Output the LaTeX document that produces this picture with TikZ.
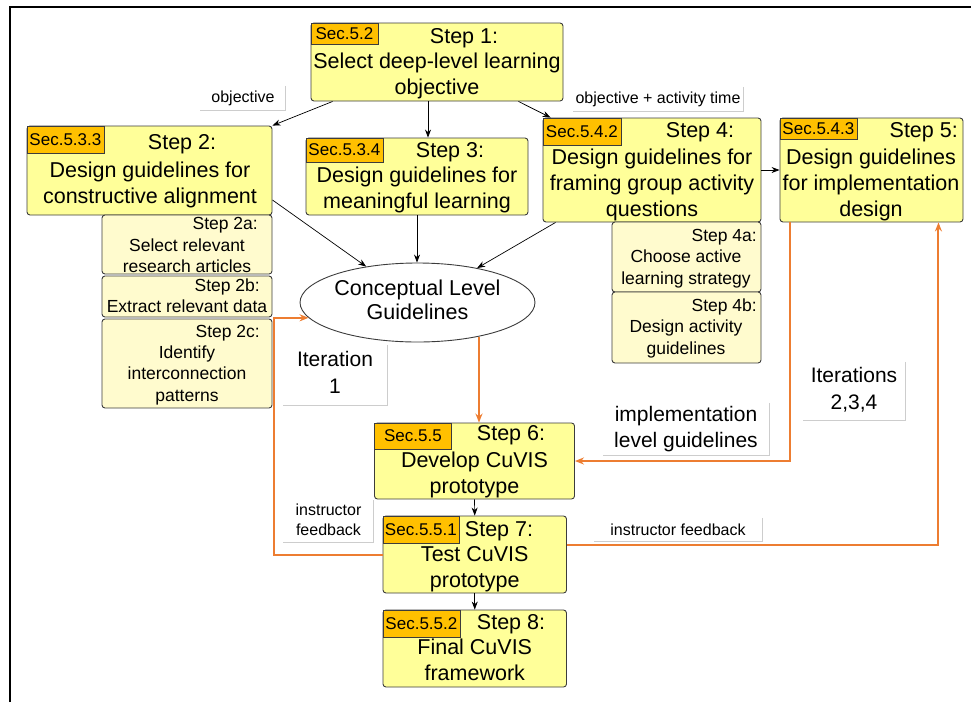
\documentclass[tikz,border=0pt]{standalone}
\usepackage{fontspec}
\setmainfont{Liberation Sans}
\usetikzlibrary{arrows.meta,shapes.geometric,calc}

\definecolor{stepfill}{RGB}{255,255,153}
\definecolor{subfill}{RGB}{255,251,206}
\definecolor{tagfill}{RGB}{255,192,0}
\definecolor{boxline}{RGB}{60,60,60}
\definecolor{loopline}{RGB}{237,125,49}
\definecolor{lblline}{RGB}{205,205,205}

\newcommand\bigfont{\fontsize{21.5}{26}\selectfont}
\newcommand\subfont{\fontsize{17.5}{21.5}\selectfont}
\newcommand\tagfont{\fontsize{17}{20}\selectfont}
\newcommand\lblfont{\fontsize{16}{20}\selectfont}

\tikzset{
  stepbox/.style={draw=boxline, fill=stepfill, rounded corners=3pt, line width=0.9pt, inner sep=0pt},
  subbox/.style={draw=boxline, fill=subfill, rounded corners=3pt, line width=0.9pt, inner sep=0pt},
  sectag/.style={draw=boxline, fill=tagfill, line width=0.7pt, inner sep=0pt, font=\tagfont, anchor=north west},
  bigtxt/.style={font=\bigfont, align=center, inner sep=0pt},
  subtxt/.style={font=\subfont, align=center, inner sep=0pt},
  lbl/.style={inner sep=0pt, align=center},
  lbledge/.style={draw=lblline, line width=1.2pt},
  arr/.style={draw=black, line width=0.7pt, -{Stealth[length=8pt,width=6pt]}},
  oarr/.style={draw=loopline, line width=2pt, -{Stealth[length=9pt,width=7pt]}},
}

\begin{document}
\begin{tikzpicture}[x=1pt,y=-1pt]
\useasboundingbox (0,0) rectangle (971,702);

% frame
\draw[line width=2.2pt] (10,702) -- (10,7) -- (971,7);

% ---- Step 1
\node[stepbox, minimum width=252pt, minimum height=78pt] (s1) at (437,62) {};
\node[sectag, minimum width=67pt, minimum height=21pt] (t1) at (s1.north west) {Sec.5.2};
\node[bigtxt] (h1) at (464,38) {\strut Step 1:};
\node[bigtxt] (b1) at (437,76.5) {\strut Select deep-level learning\\\strut objective};

% ---- Step 2
\node[stepbox, minimum width=245pt, minimum height=89pt] (s2) at (149.5,170.5) {};
\node[sectag, minimum width=77pt, minimum height=27pt] (t2) at (s2.north west) {Sec.5.3.3};
\node[bigtxt] (h2) at (182,144) {\strut Step 2:};
\node[bigtxt] (b2) at (150,185.5) {\strut Design guidelines for\\\strut constructive alignment};

% ---- Step 2a-2c
\node[subbox, minimum width=170pt, minimum height=59pt] (s2a) at (187,244.5) {};
\node[subtxt, anchor=east] (h2a) at (258,225) {\strut Step 2a:};
\node[subtxt] (b2a) at (187,257.5) {\strut Select relevant\\\strut research articles};

\node[subbox, minimum width=170pt, minimum height=41pt] (s2b) at (187,296.5) {};
\node[subtxt, anchor=east] (h2b) at (260,287) {\strut Step 2b:};
\node[subtxt] (b2b) at (187,308) {\strut Extract relevant data};

\node[subbox, minimum width=170pt, minimum height=89pt] (s2c) at (187,363.5) {};
\node[subtxt, anchor=east] (h2c) at (260,333) {\strut Step 2c:};
\node[subtxt] (b2c) at (187,375.5) {\strut Identify\\\strut interconnection\\\strut patterns};

% ---- Step 3
\node[stepbox, minimum width=222pt, minimum height=77pt] (s3) at (417,176.5) {};
\node[sectag, minimum width=77pt, minimum height=24pt] (t3) at (s3.north west) {Sec.5.3.4};
\node[bigtxt] (h3) at (450,152) {\strut Step 3:};
\node[bigtxt] (b3) at (417,190.5) {\strut Design guidelines for\\\strut meaningful learning};

% ---- Step 4
\node[stepbox, minimum width=218pt, minimum height=104pt] (s4) at (652,170) {};
\node[sectag, minimum width=78pt, minimum height=27pt] (t4) at (s4.north west) {Sec.5.4.2};
\node[bigtxt] (h4) at (700,132) {\strut Step 4:};
\node[bigtxt] (b4) at (652,185) {\strut Design guidelines for\\\strut framing group activity\\\strut questions};

% ---- Step 4a, 4b
\node[subbox, minimum width=149pt, minimum height=70pt] (s4a) at (686.5,257) {};
\node[subtxt, anchor=east] (h4a) at (757,237) {\strut Step 4a:};
\node[subtxt] (b4a) at (686,269) {\strut Choose active\\\strut learning strategy};

\node[subbox, minimum width=149pt, minimum height=71pt] (s4b) at (686.5,327.5) {};
\node[subtxt, anchor=east] (h4b) at (757,307) {\strut Step 4b:};
\node[subtxt] (b4b) at (686,339) {\strut Design activity\\\strut guidelines};

% ---- Step 5
\node[stepbox, minimum width=183pt, minimum height=104pt] (s5) at (871.5,170) {};
\node[sectag, minimum width=77pt, minimum height=21pt] (t5) at (s5.north west) {Sec.5.4.3};
\node[bigtxt, anchor=east] (h5) at (958,132) {\strut Step 5:};
\node[bigtxt] (b5) at (871,185) {\strut Design guidelines\\\strut for implementation\\\strut design};

% ---- conceptual guidelines
\node[ellipse, draw=boxline, fill=white, line width=0.9pt, inner sep=0pt,
      minimum width=195pt, minimum height=79pt, align=center,
      font=\fontsize{21.5}{24}\selectfont] (cl) at (417.5,302.5)
      {\strut Conceptual Level\\\strut Guidelines};

% ---- Step 6
\node[stepbox, minimum width=200pt, minimum height=76pt] (s6) at (474.5,461) {};
\node[sectag, minimum width=77pt, minimum height=26pt] (t6) at (s6.north west) {Sec.5.5};
\node[bigtxt] (h6) at (511,435) {\strut Step 6:};
\node[bigtxt] (b6) at (474.5,475) {\strut Develop CuVIS\\\strut prototype};

% ---- Step 7
\node[stepbox, minimum width=183.5pt, minimum height=77pt] (s7) at (474.75,554.5) {};
\node[sectag, minimum width=76pt, minimum height=27pt] (t7) at (s7.north west) {Sec.5.5.1};
\node[bigtxt] (h7) at (499,531) {\strut Step 7:};
\node[bigtxt] (b7) at (474.75,569) {\strut Test CuVIS\\\strut prototype};

% ---- Step 8
\node[stepbox, minimum width=183.5pt, minimum height=77pt] (s8) at (474.75,648.5) {};
\node[sectag, minimum width=77pt, minimum height=27pt] (t8) at (s8.north west) {Sec.5.5.2};
\node[bigtxt] (h8) at (511,624) {\strut Step 8:};
\node[bigtxt] (b8) at (474.75,662.5) {\strut Final CuVIS\\\strut framework};

% ---- edge labels
\node[lbl, font=\lblfont, minimum width=85pt, minimum height=24pt] (lobj) at (243,98) {objective};
\node[lbl, font=\lblfont, minimum width=170pt, minimum height=24pt] (lobjt) at (658,99) {objective + activity time};
\node[lbl, font=\fontsize{21}{26}\selectfont, minimum width=166pt, minimum height=52pt] (limpl) at (686,429) {\strut implementation\\\strut level guidelines};
\node[lbl, font=\fontsize{21}{27}\selectfont, minimum width=102pt, minimum height=58pt] (lit2) at (854,391) {\strut Iterations\\\strut 2,3,4};
\node[lbl, font=\fontsize{21}{27}\selectfont, minimum width=104pt, minimum height=60pt] (lit1) at (335,375) {\strut Iteration\\\strut 1};
\node[lbl, font=\lblfont, minimum width=90pt, minimum height=42pt] (lfb1) at (328.5,521) {\strut instructor\\\strut feedback};
\node[lbl, font=\lblfont, minimum width=168pt, minimum height=23pt] (lfb2) at (678,529.5) {instructor feedback};

% light edges on the right and bottom of each label
\foreach \n in {lobj,lobjt,limpl,lit2,lit1,lfb1,lfb2}
  \draw[lbledge] (\n.north east) -- (\n.south east) -- (\n.south west);

% ---- black connectors
\draw[arr] ([xshift=22pt]s1.south west) -- (s2.north east);
\draw[arr] ([xshift=-9pt]s1.south) -- ([xshift=-9pt]s1.south |- s3.north);
\draw[arr] ([xshift=-45pt]s1.south east) -- ([xshift=8pt]s4.north west);
\draw[arr] ([yshift=-29.5pt]s2.east) -- (cl.145);
\draw[arr] (s3.south) -- (s3.south |- cl.north);
\draw[arr] ([xshift=13pt]s4.south west) -- (cl.30);
\draw[arr] (s4.east) -- (s5.west);
\draw[arr] (s6.south) -- (s7.north);
\draw[arr] (s7.south) -- (s8.north);

% ---- iteration loops
\draw[oarr] (cl.-29) -- (cl.-29 |- s6.north);
\draw[oarr] ([xshift=10.5pt]s5.south west) |- (s6.east);
\draw[oarr] ([yshift=9.5pt]s7.east) -| ([xshift=-25pt]s5.south east);
\draw[oarr] (s7.west) -- ++(-108.5,0) |- (cl.188);
\end{tikzpicture}
\end{document}
